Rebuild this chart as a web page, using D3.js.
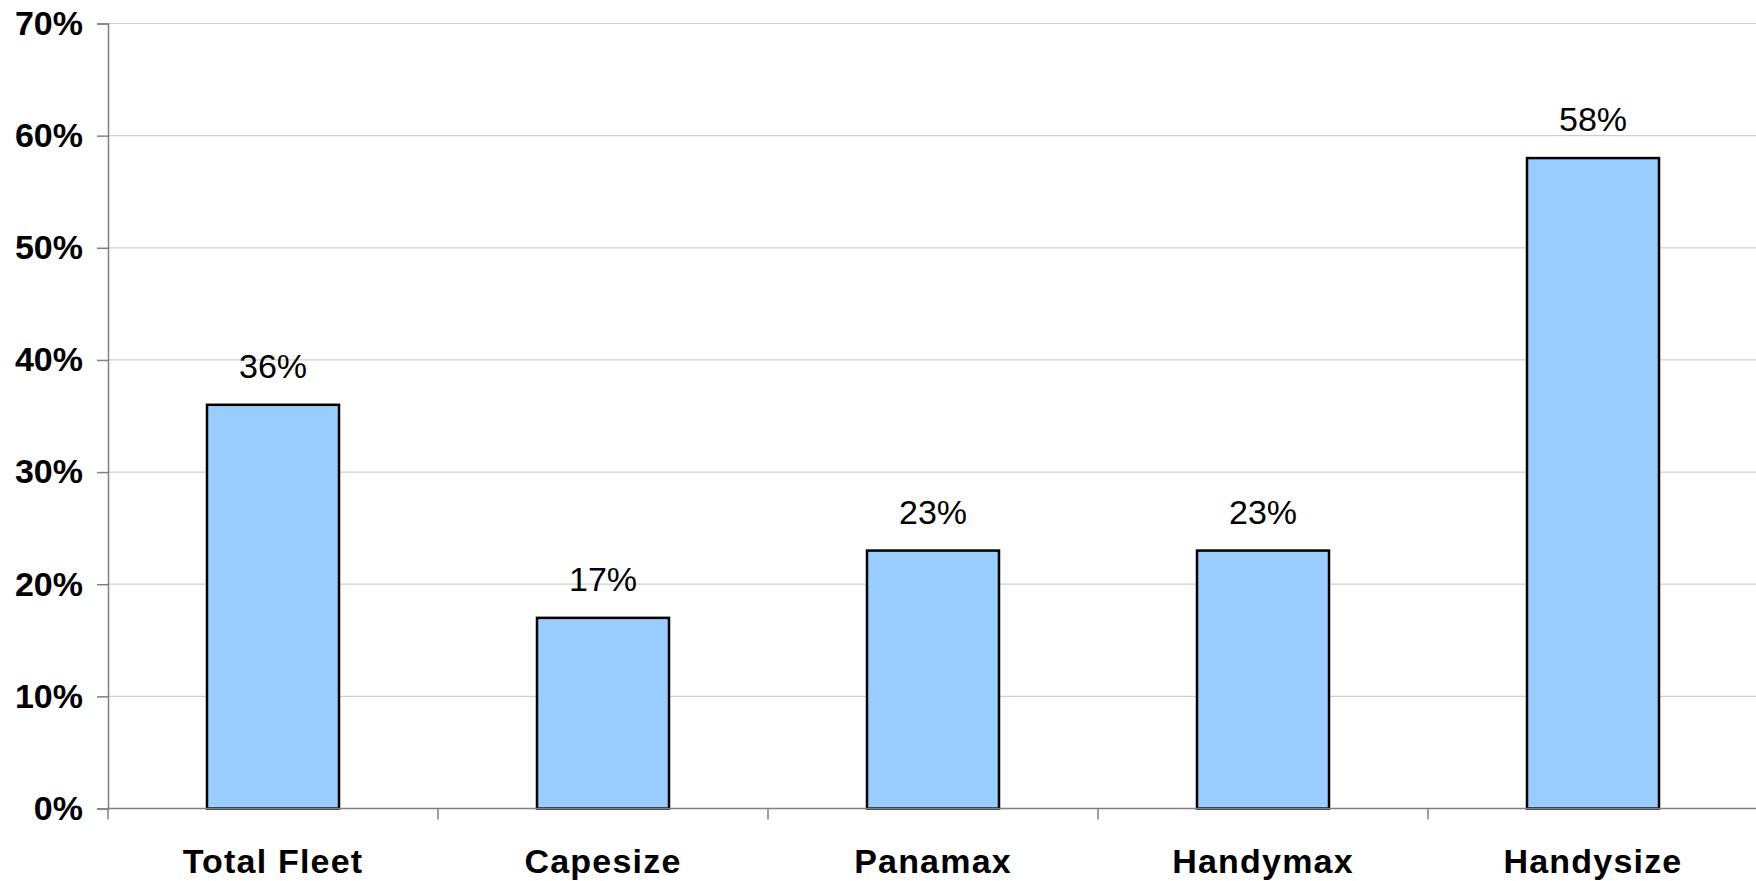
<!DOCTYPE html>
<html>
<head>
<meta charset="utf-8">
<script src="https://cdn.jsdelivr.net/npm/d3@7"></script>
<style>
    body { margin: 0; background: #fff; }
    text { font-family: Arial, "Liberation Sans", sans-serif; fill: #000; }
</style>
</head>
<body>
<svg id="chart"></svg>
<script>
var width = 1756,
    height = 881

// data
var categories = ["Total Fleet", "Capesize", "Panamax", "Handymax", "Handysize"];
var shares = [0.36, 0.17, 0.23, 0.23, 0.58];
var yTicks = [0, 0.1, 0.2, 0.3, 0.4, 0.5, 0.6, 0.7];

var plotLeft = 108, plotRight = 1758, plotTop = 23.5, plotBottom = 808.5;

var svg = d3.select("svg#chart")
    .attr("width", width)
    .attr("height", height);

var x = d3.scaleBand()
    .domain(categories)
    .range([plotLeft, plotRight])
    .paddingInner(0.6)
    .paddingOuter(0.3);

var y = d3.scaleLinear()
    .domain([0, 0.7])
    .range([plotBottom, plotTop]);

var fmt = d3.format(".0%");

// grid
svg.append("g")
    .selectAll("line")
    .data(yTicks.slice(1))
    .enter().append("line")
    .attr("x1", plotLeft)
    .attr("x2", width)
    .attr("y1", function(d) { return y(d); })
    .attr("y2", function(d) { return y(d); })
    .attr("stroke", "#cfcfcf")
    .attr("stroke-width", 1.2);

// y axis
var yAxis = svg.append("g")
    .attr("transform", "translate(" + plotLeft + ",0)")
    .call(d3.axisLeft(y).tickValues(yTicks).tickFormat(fmt).tickSize(11).tickPadding(14));
yAxis.select(".domain").attr("stroke", "#808080").attr("stroke-width", 1.5);
yAxis.selectAll(".tick line").attr("stroke", "#808080").attr("stroke-width", 1.5);
yAxis.selectAll("text")
    .attr("font-family", "Arial, 'Liberation Sans', sans-serif")
    .attr("font-size", 34)
    .attr("font-weight", "bold")
    .attr("fill", "#000");

// bars
svg.append("g")
    .selectAll("rect")
    .data(shares)
    .enter().append("rect")
    .attr("x", function(d, i) { return x(categories[i]); })
    .attr("y", function(d) { return y(d); })
    .attr("width", x.bandwidth())
    .attr("height", function(d) { return y(0) - y(d); })
    .attr("fill", "#99ccff")
    .attr("stroke", "#000")
    .attr("stroke-width", 2.5);

// value labels
svg.append("g")
    .selectAll("text")
    .data(shares)
    .enter().append("text")
    .attr("x", function(d, i) { return x(categories[i]) + x.bandwidth() / 2; })
    .attr("y", function(d) { return y(d) - 27; })
    .attr("text-anchor", "middle")
    .attr("font-size", 34)
    .text(function(d) { return fmt(d); });

// x axis
svg.append("line")
    .attr("x1", plotLeft)
    .attr("x2", width)
    .attr("y1", plotBottom)
    .attr("y2", plotBottom)
    .attr("stroke", "#808080")
    .attr("stroke-width", 1.5);

svg.append("g")
    .selectAll("line")
    .data(categories)
    .enter().append("line")
    .attr("x1", function(d, i) { return plotLeft + i * x.step(); })
    .attr("x2", function(d, i) { return plotLeft + i * x.step(); })
    .attr("y1", plotBottom)
    .attr("y2", plotBottom + 11)
    .attr("stroke", "#808080")
    .attr("stroke-width", 1.5);

svg.append("g")
    .selectAll("text")
    .data(categories)
    .enter().append("text")
    .attr("x", function(d) { return x(d) + x.bandwidth() / 2; })
    .attr("y", 872.5)
    .attr("text-anchor", "middle")
    .attr("font-size", 34)
    .attr("font-weight", "bold")
    .attr("letter-spacing", 1.2)
    .text(function(d) { return d; });
</script>
</body>
</html>
